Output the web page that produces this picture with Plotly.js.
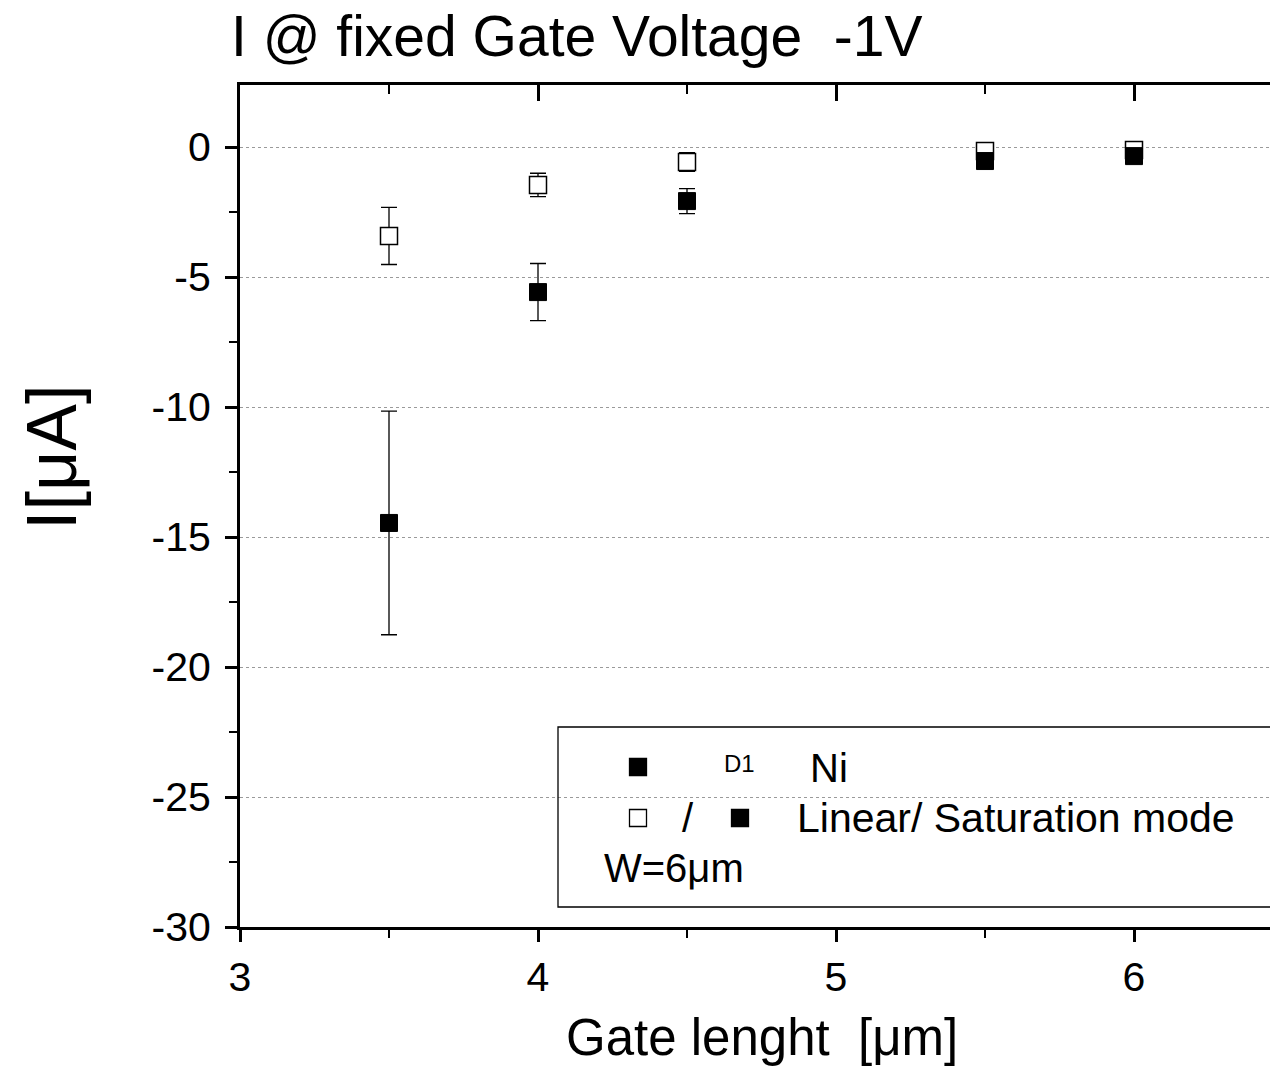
<!DOCTYPE html>
<html>
<head>
<meta charset="utf-8">
<script src="https://cdn.plot.ly/plotly-3.0.1.min.js"></script>
<style>
html,body{margin:0;padding:0;overflow:hidden;background:#fff;}
#chart{width:1270px;height:1069px;}
</style>
</head>
<body>
<div id="chart"></div>
<script>
// Gate length [µm]
const gateLength = [3.5, 4.0, 4.5, 5.5, 6.0];
// Linear mode (open squares)
const linearI = [-3.42, -1.46, -0.58, -0.15, -0.12];
const linearErr = [1.1, 0.45, 0.36, 0.1, 0.1];
// Saturation mode (filled squares)
const satI = [-14.46, -5.58, -2.08, -0.54, -0.35];
const satErr = [4.3, 1.1, 0.48, 0.1, 0.1];
// Tick labels
const yTickVals = [0, -5, -10, -15, -20, -25, -30];
const yTickText = ["0", "-5", "-10", "-15", "-20", "-25", "-30"];
const xTickVals = [3, 4, 5, 6];
const xTickText = ["3", "4", "5", "6"];

const FONT = "Liberation Sans, Arial, sans-serif";
const L = 240, T = 85, W = 1270, H = 1069, B = 142;
const plotW = W - L, plotH = H - T - B;
const px = v => (v - L) / plotW;
const py = v => (H - B - v) / plotH;

const traces = [
  {
    x: gateLength, y: linearI, type: "scatter", mode: "markers",
    marker: {symbol: "square", size: 17, color: "#ffffff", line: {color: "#000", width: 1.5}},
    error_y: {type: "data", array: linearErr, visible: true, color: "#000", thickness: 1.3, width: 8},
    showlegend: false, cliponaxis: false
  },
  {
    x: gateLength, y: satI, type: "scatter", mode: "markers",
    marker: {symbol: "square", size: 17, color: "#000", line: {color: "#000", width: 1}},
    error_y: {type: "data", array: satErr, visible: true, color: "#000", thickness: 1.3, width: 8},
    showlegend: false, cliponaxis: false
  },
  {
    x: [gateLength[0]], y: [satI[0]], xaxis: "x2", type: "scatter", mode: "markers",
    marker: {opacity: 0}, hoverinfo: "skip", showlegend: false
  }
];

function sq(cx, cy, filled) {
  const hx = 8.5 / plotW, hy = 8.5 / plotH;
  return {type: "rect", xref: "paper", yref: "paper",
    x0: px(cx) - hx, x1: px(cx) + hx, y0: py(cy) - hy, y1: py(cy) + hy,
    fillcolor: filled ? "#000" : "#fff", line: {color: "#000", width: 1.3}};
}

const layout = {
  width: W, height: H,
  margin: {l: L, r: 0, t: T, b: B, pad: 0},
  paper_bgcolor: "#fff", plot_bgcolor: "#fff",
  font: {family: FONT, color: "#000", size: 40},
  showlegend: false,
  title: {
    text: "I @ fixed Gate Voltage  -1V",
    font: {family: FONT, size: 57, color: "#000"},
    x: 231 / W, xanchor: "left", xref: "container",
    y: 1 - 36 / H, yanchor: "middle", yref: "container"
  },
  xaxis: {
    range: [3, 3 + plotW / 298], showgrid: false, zeroline: false,
    showline: true, linecolor: "#000", linewidth: 3,
    ticks: "outside", ticklen: 12, tickwidth: 3, tickcolor: "#000",
    tickvals: xTickVals, ticktext: xTickText,
    tickfont: {family: FONT, size: 41, color: "#000"},
    ticklabelstandoff: 0,
    minor: {dtick: 0.5, tick0: 3, ticks: "outside", ticklen: 8, tickwidth: 2, tickcolor: "#000", showgrid: false},
    fixedrange: true
  },
  xaxis2: {
    overlaying: "x", side: "top", matches: "x",
    range: [3, 3 + plotW / 298], showgrid: false, zeroline: false,
    showline: true, linecolor: "#000", linewidth: 3,
    ticks: "inside", ticklen: 16, tickwidth: 3, tickcolor: "#000",
    tickvals: xTickVals, showticklabels: false,
    minor: {dtick: 0.5, tick0: 3, ticks: "inside", ticklen: 9, tickwidth: 2, tickcolor: "#000", showgrid: false}
  },
  yaxis: {
    range: [-30, -30 + plotH / 26], zeroline: false,
    showline: true, linecolor: "#000", linewidth: 3,
    showgrid: true, gridcolor: "#9a9a9a", gridwidth: 1, griddash: "dot",
    ticks: "outside", ticklen: 12, tickwidth: 3, tickcolor: "#000",
    tickvals: yTickVals, ticktext: yTickText,
    tickfont: {family: FONT, size: 41, color: "#000"},
    ticklabelstandoff: 6,
    minor: {dtick: 2.5, tick0: 0, ticks: "outside", ticklen: 8, tickwidth: 2, tickcolor: "#000", showgrid: false},
    fixedrange: true
  },
  shapes: [
    {type: "rect", xref: "paper", yref: "paper",
     x0: px(558), x1: 1.05, y0: py(907), y1: py(727),
     line: {color: "#000", width: 1.3}, fillcolor: "rgba(0,0,0,0)"},
    sq(638, 767, true),
    sq(638, 818, false),
    sq(740, 818, true)
  ],
  annotations: [
    {text: "Gate lenght  [μm]", xref: "paper", yref: "paper", x: px(762), y: py(1037),
     xanchor: "center", yanchor: "middle", showarrow: false, font: {family: FONT, size: 51, color: "#000"}},
    {text: "I[μA]", xref: "paper", yref: "paper", x: px(52), y: py(458), textangle: -90,
     xanchor: "center", yanchor: "middle", showarrow: false, font: {family: FONT, size: 70, color: "#000"}},
    {text: "D1", xref: "paper", yref: "paper", x: px(739), y: py(763),
     xanchor: "center", yanchor: "middle", showarrow: false, font: {family: FONT, size: 24, color: "#000"}},
    {text: "Ni", xref: "paper", yref: "paper", x: px(808), y: py(768),
     xanchor: "left", yanchor: "middle", showarrow: false, font: {family: FONT, size: 40, color: "#000"}},
    {text: "/", xref: "paper", yref: "paper", x: px(688), y: py(818),
     xanchor: "center", yanchor: "middle", showarrow: false, font: {family: FONT, size: 40, color: "#000"}},
    {text: "Linear/ Saturation mode", xref: "paper", yref: "paper", x: px(795), y: py(818),
     xanchor: "left", yanchor: "middle", showarrow: false, font: {family: FONT, size: 41, color: "#000"}},
    {text: "W=6μm", xref: "paper", yref: "paper", x: px(602), y: py(868),
     xanchor: "left", yanchor: "middle", showarrow: false, font: {family: FONT, size: 40, color: "#000"}}
  ]
};

Plotly.newPlot("chart", traces, layout, {displayModeBar: false, staticPlot: true});
</script>
</body>
</html>
